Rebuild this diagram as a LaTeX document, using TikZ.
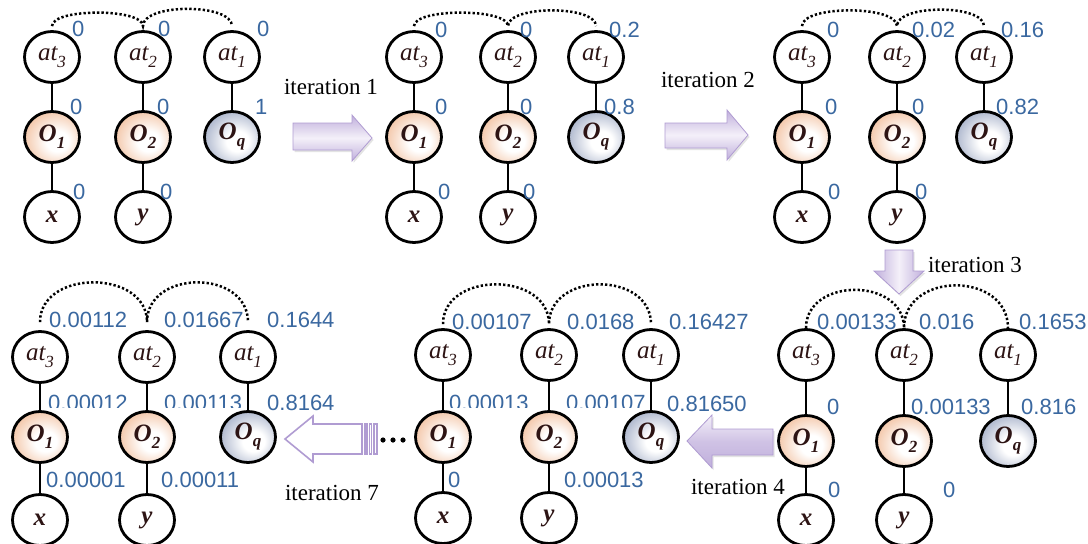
\documentclass[tikz,border=0pt]{standalone}
\usepackage{fontspec}
\setmainfont{Liberation Serif}
\setsansfont{Liberation Sans}
\usetikzlibrary{shapes.geometric,shadows}

\definecolor{valblue}{RGB}{58,104,160}
\definecolor{inktext}{RGB}{45,20,20}
\definecolor{peach}{RGB}{232,158,108}
\definecolor{peachsoft}{RGB}{244,202,174}
\definecolor{slate}{RGB}{84,98,136}
\definecolor{slatesoft}{RGB}{178,187,208}
\definecolor{lav}{RGB}{192,175,220}
\definecolor{lavlight}{RGB}{244,240,249}
\definecolor{lavline}{RGB}{176,156,210}

% soft balls for the observed variables
\pgfdeclareradialshading{peachball}{\pgfpoint{6bp}{-5bp}}{color(0bp)=(white); color(10bp)=(white); color(28bp)=(peachsoft); color(44bp)=(peach); color(60bp)=(peach)}
\pgfdeclareradialshading{slateball}{\pgfpoint{6bp}{-5bp}}{color(0bp)=(white); color(10bp)=(white); color(28bp)=(slatesoft); color(44bp)=(slate); color(60bp)=(slate)}

\newcommand\lowidx[1]{\raisebox{-0.28em}{\fontsize{17}{17}\selectfont #1}}

\tikzset{
  vtx/.style={ellipse, draw=black, line width=2.8pt, minimum width=55pt,
    minimum height=51pt, inner sep=0pt, fill=white, text=inktext,
    font=\fontsize{25}{25}\selectfont\itshape},
  obsA/.style={vtx, shading=peachball, font=\fontsize{25}{25}\selectfont\bfseries\itshape},
  obsQ/.style={vtx, shading=slateball, font=\fontsize{25}{25}\selectfont\bfseries\itshape},
  leaf/.style={vtx, font=\fontsize{25}{25}\selectfont\bfseries\itshape},
  link/.style={line width=2.5pt},
  dotarc/.style={line width=2.5pt, dash pattern=on 2.3pt off 2.2pt},
  val/.style={anchor=west, inner sep=0pt, text=valblue,
    font=\sffamily\fontsize{22}{22}\selectfont},
  itlab/.style={inner sep=0pt, font=\fontsize{23}{23}\selectfont},
  blockarrow/.style={draw=lavline, line width=0.8pt,
    drop shadow={opacity=0.22, shadow xshift=1.5pt, shadow yshift=-2pt}},
}

% one network: prefix, three column positions, three row positions
\newcommand\panel[7]{%
  \node[vtx]  (#1at3) at (#2,#5) {at\lowidx{3}};
  \node[vtx]  (#1at2) at (#3,#5) {at\lowidx{2}};
  \node[vtx]  (#1at1) at (#4,#5) {at\lowidx{1}};
  \node[obsA] (#1o1)  at (#2,#6) {O\lowidx{1}};
  \node[obsA] (#1o2)  at (#3,#6) {O\lowidx{2}};
  \node[obsQ] (#1oq)  at (#4,#6) {O\lowidx{q}};
  \node[leaf] (#1x)   at (#2,#7) {x};
  \node[leaf] (#1y)   at (#3,#7) {y};
  \draw[link] (#1at3) -- (#1o1) -- (#1x);
  \draw[link] (#1at2) -- (#1o2) -- (#1y);
  \draw[link] (#1at1) -- (#1oq);
}
% dotted arcs over the attribute nodes: prefix, gap, two control heights
\newcommand\arcs[4]{%
  \draw[dotarc] ([yshift=#2pt]#1at3.north) .. controls +(0,-#3) and +(0,-#3) ..
    ([yshift=#2pt]#1at2.north) .. controls +(0,-#4) and +(0,-#4) ..
    ([yshift=#2pt]#1at1.north);
}

\begin{document}
\begin{tikzpicture}[x=1pt,y=-1pt]
\fill[white] (0,0) rectangle (1088,544);
\useasboundingbox (0,0) rectangle (1088,544);

% ---- top row ----
\panel{a}{52}{143}{232}{57}{137}{217}
\arcs{a}{4}{18}{23}
\node[val] (av1) at (72,29) {0};
\node[val] (av2) at (158,29) {0};
\node[val] (av3) at (257,29) {0};
\node[val] (av4) at (70,107) {0};
\node[val] (av5) at (157,107) {0};
\node[val] (av6) at (255,107) {1};
\node[val] (av7) at (73,192) {0};
\node[val] (av8) at (160,192) {0};

\panel{b}{414}{508}{596}{57}{137}{217}
\arcs{b}{4}{18}{21}
\node[val] (bv1) at (435,30) {0};
\node[val] (bv2) at (520,30) {0};
\node[val] (bv3) at (609,30) {0.2};
\node[val] (bv4) at (435,107) {0};
\node[val] (bv5) at (520,107) {0};
\node[val] (bv6) at (604,107) {0.8};
\node[val] (bv7) at (438,192) {0};
\node[val] (bv8) at (523,192) {0};

\panel{c}{802}{897}{984}{57}{137}{217}
\arcs{c}{4}{21}{22}
\node[val] (cv1) at (827,30) {0};
\node[val] (cv2) at (912,30) {0.02};
\node[val] (cv3) at (1001,30) {0.16};
\node[val] (cv4) at (825,107) {0};
\node[val] (cv5) at (912,107) {0};
\node[val] (cv6) at (996,107) {0.82};
\node[val] (cv7) at (828,192) {0};
\node[val] (cv8) at (915,192) {0};

% ---- bottom row ----
\panel{d}{806}{904}{1008}{355}{441}{520}
\arcs{d}{0}{51}{57}
\node[val] (dv1) at (817,322) {0.00133};
\node[val] (dv2) at (919,322) {0.016};
\node[val] (dv3) at (1019,322) {0.1653};
\node[val] (dv4) at (827,407) {0};
\node[val] (dv5) at (911,407) {0.00133};
\node[val] (dv6) at (1021,407) {0.816};
\node[val] (dv7) at (828,490) {0};
\node[val] (dv8) at (943,490) {0};

\panel{e}{443}{549}{651}{355}{437}{518}
\arcs{e}{4}{53}{53}
\node[val] (ev1) at (452,322) {0.00107};
\node[val] (ev2) at (567,322) {0.0168};
\node[val] (ev3) at (669,322) {0.16427};
\begin{scope}
  \clip (440,380) rectangle (660,407.5);
  \node[val] (ev4) at (449,403) {0.00013};
  \node[val] (ev5) at (566,403) {0.00107};
\end{scope}
\node[val] (ev6) at (667,404) {0.81650};
\node[val] (ev7) at (448,480) {0};
\node[val] (ev8) at (564,480) {0.00013};

\panel{f}{40}{147}{248}{357}{437}{520}
\arcs{f}{8}{53}{53}
\node[val] (fv1) at (49,320) {0.00112};
\node[val] (fv2) at (164,320) {0.01667};
\node[val] (fv3) at (267,320) {0.1644};
\begin{scope}
  \clip (40,380) rectangle (260,407.5);
  \node[val] (fv4) at (48,403) {0.00012};
  \node[val] (fv5) at (164,403) {0.00113};
\end{scope}
\node[val] (fv6) at (267,403) {0.8164};
\node[val] (fv7) at (46,480) {0.00001};
\node[val] (fv8) at (161,480) {0.00011};

% ---- block arrows between the stages ----
\path[blockarrow, top color=lav, bottom color=lav, middle color=lavlight]
  (293,123) -- (352,123) -- (352,115) -- (372,138) -- (352,161) -- (352,150)
  -- (293,150) -- cycle;
\path[blockarrow, top color=lav, bottom color=lav, middle color=lavlight]
  (665,123) -- (727,123) -- (727,110) -- (748,135) -- (727,160) -- (727,148)
  -- (665,148) -- cycle;
\path[blockarrow, left color=lav, right color=lav, middle color=lavlight]
  (885,250) -- (913,250) -- (913,271) -- (924,271) -- (899,294) -- (874,271)
  -- (885,271) -- cycle;
\path[blockarrow, top color=lavlight, bottom color=lav, middle color=lav!70!lavlight]
  (773,429) -- (712,429) -- (712,415) -- (687,441) -- (712,468) -- (712,455)
  -- (773,455) -- cycle;

% hollow striped arrow towards the last stage
\path[draw=lavline, line width=1.6pt, fill=white]
  (285,439) -- (313,416) -- (313,424) -- (362,424) -- (362,454) -- (313,454)
  -- (313,462) -- cycle;
\draw[lavline, line width=1.2pt] (365,424) rectangle (367,454);
\draw[lavline, line width=1.2pt] (369.5,424) rectangle (371.5,454);
\draw[lavline, line width=1.2pt] (374,424) rectangle (377,454);

% skipped stages
\fill (383,440) circle[radius=2.6pt];
\fill (393,440) circle[radius=2.6pt];
\fill (403,440) circle[radius=2.6pt];

\node[itlab] (it1) at (331,87) {iteration 1};
\node[itlab] (it2) at (708,80) {iteration 2};
\node[itlab] (it3) at (975,265) {iteration 3};
\node[itlab] (it4) at (738,487) {iteration 4};
\node[itlab] (it7) at (332,493) {iteration 7};
\end{tikzpicture}
\end{document}
